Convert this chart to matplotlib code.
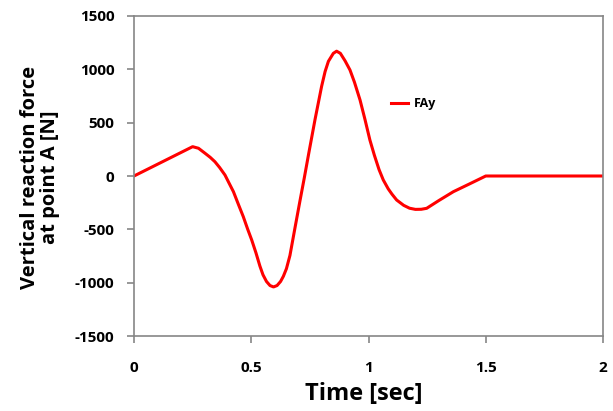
import matplotlib
matplotlib.use("Agg")
import matplotlib.pyplot as plt

time_s = [0.0, 0.25, 0.275, 0.303, 0.325, 0.345, 0.365, 0.388, 0.405, 0.424, 0.445,
          0.466, 0.485, 0.502, 0.52, 0.537, 0.55, 0.565, 0.58, 0.595, 0.61, 0.625,
          0.637, 0.65, 0.665, 0.687, 0.708, 0.726, 0.745, 0.772, 0.8, 0.815, 0.829, 0.85,
          0.864, 0.88, 0.9, 0.921, 0.94, 0.964, 0.985, 1.006, 1.025, 1.045, 1.063,
          1.084, 1.1, 1.12, 1.15, 1.175, 1.2, 1.225, 1.248, 1.3, 1.362, 1.43, 1.5, 2.0]
fay = [0, 275, 260, 213, 175, 134, 80, 9, -65, -147, -265,
       -381, -500, -600, -720, -845, -926, -989, -1027, -1040, -1027, -989,
       -940, -869, -745, -480, -230, -20, 210, 530, 840, 980, 1075, 1150,
       1170, 1150, 1080, 994, 880, 712, 530, 337, 195, 60, -37,
       -120, -170, -225, -275, -302, -313, -312, -303, -230, -147, -75, 0, 0]

x_ticks = [0, 0.5, 1, 1.5, 2]
x_tick_labels = ["0", "0.5", "1", "1.5", "2"]
y_ticks = [-1500, -1000, -500, 0, 500, 1000, 1500]
y_tick_labels = ["-1500", "-1000", "-500", "0", "500", "1000", "1500"]

plt.rcParams['font.family'] = ['Open Sans', 'DejaVu Sans']
plt.rcParams['font.weight'] = 'bold'

fig = plt.figure(figsize=(6.13, 4.11), dpi=100)
ax = fig.add_axes([134/613, 75/411, 469/613, 320/411])

ax.plot(time_s, fay, color="#FF0000", lw=2.2, label="FAy", solid_joinstyle="round")
ax.set_xlim(0, 2)
ax.set_ylim(-1500, 1500)
ax.set_xticks(x_ticks)
ax.set_xticklabels(x_tick_labels, fontsize=11, fontweight="bold")
ax.set_yticks(y_ticks)
ax.set_yticklabels(y_tick_labels, fontsize=11, fontweight="bold")

for s in ax.spines.values():
    s.set_color("#868686")
    s.set_linewidth(1.2)
ax.tick_params(axis="both", direction="out", length=5, width=1.2, color="#868686")
ax.tick_params(axis="x", pad=13)
ax.tick_params(axis="y", pad=9)

fig.text(364/613, 1 - 394/411, "Time [sec]", ha="center", va="center",
         fontsize=17, fontweight="bold")
fig.text(40/613, 1 - 177/411, "Vertical reaction force\nat point A [N]", ha="center",
         va="center", rotation=90, fontsize=14.5, fontweight="bold", linespacing=1.05)

leg = ax.legend(loc="center left", bbox_to_anchor=(0.525, 0.725), frameon=False,
                handlelength=1.3, handletextpad=0.5, prop={"size": 9, "weight": "bold"})

fig.savefig("out.png", dpi=100)
